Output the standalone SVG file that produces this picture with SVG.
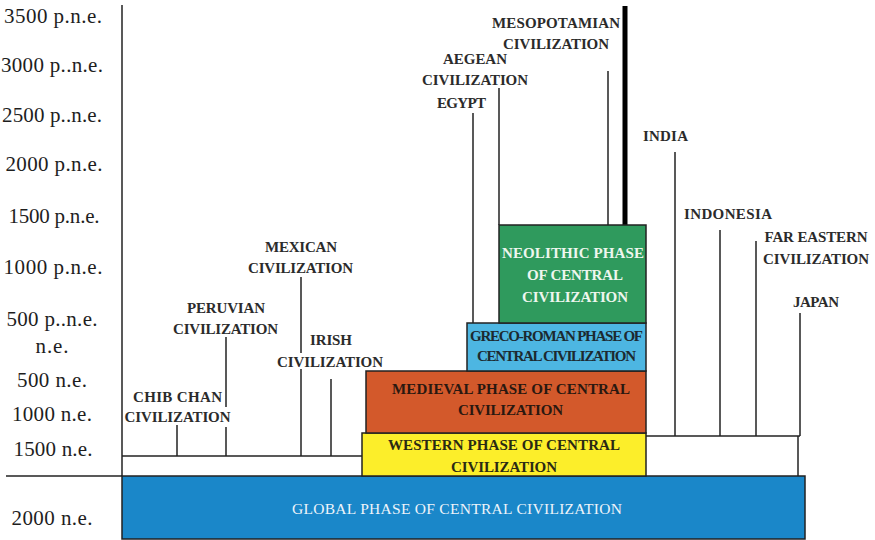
<svg xmlns="http://www.w3.org/2000/svg" width="875" height="540" viewBox="0 0 875 540">
  <style>
    text { font-family: "Liberation Serif", "Times New Roman", Times, "DejaVu Serif", serif; }
    .axis { font-size: 21px; fill: #1e1e1e; text-anchor: middle; }
    .lbl { font-size: 15px; font-weight: bold; fill: #2b2b2b; text-anchor: middle; }
    .box-txt { font-size: 15px; font-weight: bold; text-anchor: middle; }
    .ln { stroke: #222; stroke-width: 1.5; fill: none; }
    .phase { stroke: #222; stroke-width: 1.5; }
  </style>

  <!-- time scale -->
  <g id="time-axis">
    <text class="axis" x="53" y="23" textLength="98">3500 p.n.e.</text>
    <text class="axis" x="52" y="72" textLength="102">3000 p..n.e.</text>
    <text class="axis" x="52" y="122" textLength="100">2500 p..n.e.</text>
    <text class="axis" x="54" y="171" textLength="97">2000 p.n.e.</text>
    <text class="axis" x="54" y="223" textLength="91">1500 p.n.e.</text>
    <text class="axis" x="53" y="274" textLength="99">1000 p.n.e.</text>
    <text class="axis" x="52" y="326" textLength="91">500 p..n.e.</text>
    <text class="axis" x="52" y="353" textLength="33">n.e.</text>
    <text class="axis" x="52" y="387" textLength="70">500 n.e.</text>
    <text class="axis" x="52" y="421" textLength="80">1000 n.e.</text>
    <text class="axis" x="53" y="456" textLength="79">1500 n.e.</text>
    <text class="axis" x="52" y="525" textLength="81">2000 n.e.</text>
    <line class="ln" x1="122" y1="5" x2="122" y2="476"/>
    <line class="ln" x1="6" y1="476" x2="122" y2="476"/>
  </g>

  <!-- connectors: civilization stems and base rails -->
  <g id="connectors">
    <line class="ln" x1="122" y1="456" x2="362" y2="456"/>
    <line class="ln" x1="177" y1="425" x2="177" y2="456"/>
    <line class="ln" x1="226" y1="337" x2="226" y2="407"/>
    <line class="ln" x1="226" y1="427" x2="226" y2="456"/>
    <line class="ln" x1="301" y1="277" x2="301" y2="353"/>
    <line class="ln" x1="301" y1="369" x2="301" y2="456"/>
    <line class="ln" x1="331" y1="379" x2="331" y2="456"/>
    <line class="ln" x1="473" y1="113" x2="473" y2="323"/>
    <line class="ln" x1="499" y1="88" x2="499" y2="225"/>
    <line class="ln" x1="608" y1="71" x2="608" y2="225"/>
    <line x1="625" y1="6" x2="625" y2="225" stroke="#000" stroke-width="5"/>
    <polyline class="ln" points="646,436 800,436"/>
    <line class="ln" x1="798" y1="436" x2="798" y2="476"/>
    <line class="ln" x1="675" y1="152" x2="675" y2="436"/>
    <line class="ln" x1="720" y1="230" x2="720" y2="436"/>
    <line class="ln" x1="756" y1="241" x2="756" y2="436"/>
    <line class="ln" x1="800" y1="313" x2="800" y2="436"/>
  </g>

  <!-- civilization labels -->
  <g id="chib-chan">
    <text class="lbl" x="177.5" y="402" textLength="89">CHIB CHAN</text>
    <text class="lbl" x="177.5" y="422" textLength="106">CIVILIZATION</text>
  </g>
  <g id="peruvian">
    <text class="lbl" x="226" y="313" textLength="78">PERUVIAN</text>
    <text class="lbl" x="225.5" y="334" textLength="105">CIVILIZATION</text>
  </g>
  <g id="mexican">
    <text class="lbl" x="301" y="252" textLength="72">MEXICAN</text>
    <text class="lbl" x="300.5" y="273" textLength="105">CIVILIZATION</text>
  </g>
  <g id="irish">
    <text class="lbl" x="331" y="345" textLength="42">IRISH</text>
    <text class="lbl" x="330" y="367" textLength="106">CIVILIZATION</text>
  </g>
  <g id="egypt">
    <text class="lbl" x="461.5" y="108" textLength="49">EGYPT</text>
  </g>
  <g id="aegean">
    <text class="lbl" x="475" y="64" textLength="64">AEGEAN</text>
    <text class="lbl" x="475" y="85" textLength="106">CIVILIZATION</text>
  </g>
  <g id="mesopotamian">
    <text class="lbl" x="556" y="28" textLength="128">MESOPOTAMIAN</text>
    <text class="lbl" x="556" y="49" textLength="106">CIVILIZATION</text>
  </g>
  <g id="india">
    <text class="lbl" x="665.5" y="141" textLength="45">INDIA</text>
  </g>
  <g id="indonesia">
    <text class="lbl" x="728" y="219" textLength="88">INDONESIA</text>
  </g>
  <g id="far-eastern">
    <text class="lbl" x="816" y="242" textLength="103">FAR EASTERN</text>
    <text class="lbl" x="816" y="264" textLength="106">CIVILIZATION</text>
  </g>
  <g id="japan">
    <text class="lbl" x="816" y="307" textLength="46">JAPAN</text>
  </g>

  <!-- phases of central civilization -->
  <g id="global-phase">
    <rect class="phase" x="122" y="476" width="683" height="63" fill="#1a87c9"/>
    <text x="457" y="514" textLength="330" font-size="15.5" fill="#eef4fa" text-anchor="middle">GLOBAL PHASE OF CENTRAL CIVILIZATION</text>
  </g>
  <g id="western-phase">
    <rect class="phase" x="362" y="433" width="284" height="43" fill="#fcee2a"/>
    <text class="box-txt" x="504" y="450" fill="#2a2a14" textLength="232">WESTERN PHASE OF CENTRAL</text>
    <text class="box-txt" x="504" y="472" fill="#2a2a14" textLength="106">CIVILIZATION</text>
  </g>
  <g id="medieval-phase">
    <rect class="phase" x="366" y="371" width="280" height="62" fill="#d3592b"/>
    <text class="box-txt" x="511" y="394" fill="#2a1810" textLength="238">MEDIEVAL PHASE OF CENTRAL</text>
    <text class="box-txt" x="510.5" y="415" fill="#2a1810" textLength="105">CIVILIZATION</text>
  </g>
  <g id="greco-roman-phase">
    <rect class="phase" x="467" y="323" width="179" height="48" fill="#4db6e2"/>
    <text class="box-txt" x="556.5" y="341" font-size="13.5" fill="#1c2a30" textLength="173">GRECO-ROMAN PHASE OF</text>
    <text class="box-txt" x="556.5" y="361" font-size="13.5" fill="#1c2a30" textLength="159">CENTRAL CIVILIZATION</text>
  </g>
  <g id="neolithic-phase">
    <rect class="phase" x="499" y="225" width="147" height="98" fill="#2f9a5d"/>
    <text class="box-txt" x="573" y="258" font-size="15.5" font-weight="normal" fill="#eef6ee" textLength="142">NEOLITHIC PHASE</text>
    <text class="box-txt" x="575" y="280" font-size="15.5" font-weight="normal" fill="#eef6ee" textLength="96">OF CENTRAL</text>
    <text class="box-txt" x="575" y="302" font-size="15.5" font-weight="normal" fill="#eef6ee" textLength="106">CIVILIZATION</text>
  </g>
</svg>
